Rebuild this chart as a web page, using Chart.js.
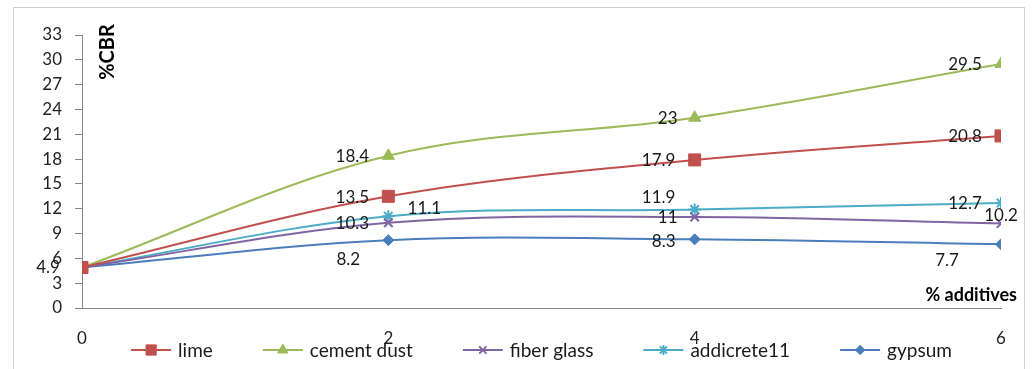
<!DOCTYPE html>
<html>
<head>
<script src="https://cdn.jsdelivr.net/npm/chart.js@4.4.0/dist/chart.umd.min.js"></script>
<style>
  body { margin: 0; background: #fff; }
  .wrap { position: relative; width: 1032px; height: 369px; overflow: hidden; }
  .frame { position: absolute; left: 13px; top: 7px; width: 1010px; height: 420px; border: 1px solid #d0d0d0; }
  canvas { position: absolute; left: 0; top: 0; }
</style>
</head>
<body>
<div class="wrap">
  <div class="frame"></div>
  <canvas id="cbr" width="1032" height="369"></canvas>
</div>
<script>
// % additives on the x axis
var additives = [0, 2, 4, 6];
var lime = [4.9, 13.5, 17.9, 20.8];
var cementDust = [4.9, 18.4, 23, 29.5];
var fiberGlass = [4.9, 10.3, 11, 10.2];
var addicrete11 = [4.9, 11.1, 11.9, 12.7];
var gypsum = [4.9, 8.2, 8.3, 7.7];
var yTicks = [0, 3, 6, 9, 12, 15, 18, 21, 24, 27, 30, 33];

function pts(vals) {
  return vals.map(function(v, i) { return {x: additives[i], y: v}; });
}

// where each value label sits relative to its point (text centre, px)
var limeLbl = [null, [-36, 1], [-36, 1], [-36, 1]];
var cementLbl = [null, [-36, 1], [-27, 1], [-36, 1]];
var fiberLbl = [null, [-36, 1], [-27, 1], [0, -8]];
var addiLbl = [null, [36, -8], [-36, -12], [-36, 1]];
var gypsumLbl = [[-34, 0], [-40, 19], [-31, 2], [-54, 16]];

var labelPlugin = {
  id: 'valueLabels',
  afterDatasetsDraw: function(chart) {
    var ctx = chart.ctx;
    ctx.save();
    ctx.font = '17px Lato';
    ctx.fillStyle = '#1a1a1a';
    ctx.textAlign = 'center';
    ctx.textBaseline = 'middle';
    chart.data.datasets.forEach(function(ds, i) {
      var meta = chart.getDatasetMeta(i);
      ds.labelAt.forEach(function(off, j) {
        if (!off) return;
        var p = meta.data[j];
        ctx.fillText(String(ds.data[j].y), p.x + off[0], p.y + off[1]);
      });
    });
    ctx.restore();
  }
};

var titlePlugin = {
  id: 'axisTitles',
  afterDraw: function(chart) {
    var ctx = chart.ctx;
    ctx.save();
    ctx.fillStyle = '#000';
    ctx.font = 'bold 20px Lato';
    ctx.translate(108, 52);
    ctx.rotate(-Math.PI / 2);
    ctx.textAlign = 'center';
    ctx.textBaseline = 'middle';
    ctx.fillText('%CBR', 0, 0);
    ctx.restore();
    ctx.save();
    ctx.fillStyle = '#000';
    ctx.font = 'bold 18px Lato';
    ctx.textAlign = 'right';
    ctx.textBaseline = 'middle';
    ctx.fillText('% additives', 1017, 295);
    ctx.restore();
  }
};

var legendPlugin = {
  id: 'lineLegend',
  afterDraw: function(chart) {
    var ctx = chart.ctx, area = chart.chartArea;
    var lineW = 40, gapText = 7, gapItem = 50, y = 350;
    ctx.save();
    ctx.font = '19px Lato';
    var widths = chart.data.datasets.map(function(ds) { return ctx.measureText(ds.label).width; });
    var total = widths.reduce(function(a, b) { return a + b; }, 0) +
      widths.length * (lineW + gapText) + (widths.length - 1) * gapItem;
    var x = (area.left + area.right) / 2 - total / 2;
    chart.data.datasets.forEach(function(ds, i) {
      ctx.strokeStyle = ds.borderColor;
      ctx.lineWidth = 2;
      ctx.beginPath();
      ctx.moveTo(x, y);
      ctx.lineTo(x + lineW, y);
      ctx.stroke();
      ctx.fillStyle = ds.pointBackgroundColor;
      ctx.strokeStyle = ds.pointBorderColor;
      ctx.lineWidth = ds.pointBorderWidth;
      Chart.helpers.drawPoint(ctx, {
        pointStyle: ds.pointStyle, radius: ds.pointRadius * 0.85,
        borderWidth: ds.pointBorderWidth, rotation: 0
      }, x + lineW / 2, y);
      ctx.fillStyle = '#1a1a1a';
      ctx.textAlign = 'left';
      ctx.textBaseline = 'middle';
      ctx.fillText(ds.label, x + lineW + gapText, y + 1);
      x += lineW + gapText + widths[i] + gapItem;
    });
    ctx.restore();
  }
};

function series(label, vals, color, style, radius, lbl) {
  return {
    label: label,
    data: pts(vals),
    borderColor: color,
    backgroundColor: color,
    pointBackgroundColor: color,
    pointBorderColor: color,
    pointBorderWidth: (style === 'crossRot' || style === 'star') ? 2 : 1,
    pointStyle: style,
    pointRadius: radius,
    borderWidth: 2,
    tension: 0.35,
    fill: false,
    labelAt: lbl
  };
}

Chart.defaults.font.family = 'Lato';

new Chart(document.getElementById('cbr'), {
  type: 'line',
  data: {
    datasets: [
      series('lime', lime, '#C0504D', 'rect', 8.5, limeLbl),
      series('cement dust', cementDust, '#9BBB59', 'triangle', 7, cementLbl),
      series('fiber glass', fiberGlass, '#8064A2', 'crossRot', 6, fiberLbl),
      series('addicrete11', addicrete11, '#4BACC6', 'star', 6, addiLbl),
      series('gypsum', gypsum, '#4A7EBB', 'rectRot', 5.5, gypsumLbl)
    ]
  },
  options: {
    responsive: false,
    devicePixelRatio: 1,
    animation: false,
    layout: { padding: { top: 35, right: 31, left: 0, bottom: 0 } },
    plugins: { legend: { display: false }, tooltip: { enabled: false } },
    scales: {
      x: {
        type: 'linear',
        min: 0,
        max: 6,
        afterFit: function(s) { s.height = 61; },
        ticks: { stepSize: 2, padding: 20, color: '#222', font: { size: 17 } },
        grid: { display: false, drawTicks: false },
        border: { display: true, color: '#868686', width: 1 }
      },
      y: {
        min: 0,
        max: 33,
        afterFit: function(s) { s.width = 82; },
        afterBuildTicks: function(s) { s.ticks = yTicks.map(function(v) { return {value: v}; }); },
        ticks: { padding: 13, color: '#222', font: { size: 17 } },
        grid: { drawOnChartArea: false, drawTicks: true, tickLength: 7, color: '#868686' },
        border: { display: true, color: '#868686', width: 1 }
      }
    }
  },
  plugins: [labelPlugin, titlePlugin, legendPlugin]
});
</script>
</body>
</html>
